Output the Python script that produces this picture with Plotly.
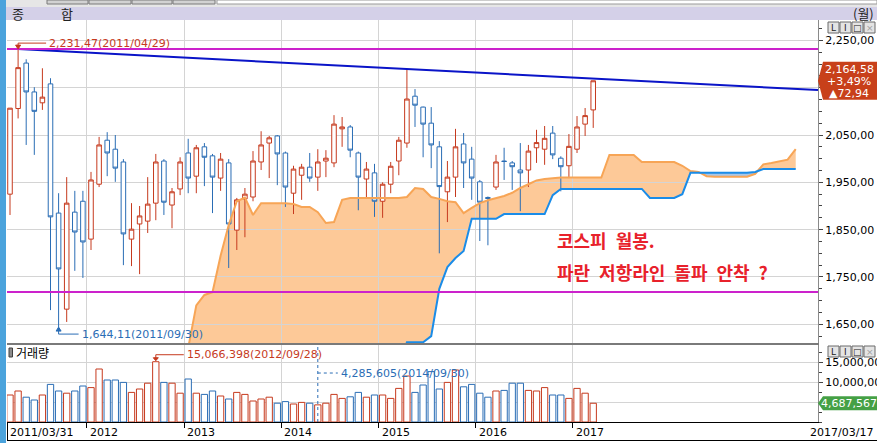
import plotly.graph_objects as go

# ---------------- data ----------------
opens = [1925, 2106, 2202, 2141, 2118, 2158, 1885, 1682, 1887, 1910,
         1830, 1946, 2039, 2020, 1993, 1830, 1862, 1868, 1906, 1995,
         1902, 1936, 2012, 1963, 2025, 2006, 1959, 1991, 1849, 1915,
         1919, 1993, 2033, 2048, 2012, 1927, 1965, 1982, 1961, 1995,
         1991, 2063, 2067, 2012, 1957, 1970, 1910, 1946, 1995, 2033,
         2132, 2109, 2075, 2025, 1930, 1961, 2031, 1999, 1951, 1918,
         1940, 1995, 1991, 1976, 1976, 2023, 2020, 2054, 2001, 1985,
         2020, 2073, 2103]
highs = [2107, 2231.47, 2210, 2151, 2191, 2170, 1927, 1961, 1932, 1932,
         1972, 2046, 2056, 2050, 1999, 1906, 1900, 1961, 2010, 1999,
         1938, 2003, 2042, 2029, 2033, 2010, 2012, 1999, 1917, 1938,
         2016, 2058, 2048, 2050, 2015, 1985, 1989, 2012, 2020, 2018,
         2092, 2088, 2071, 2015, 1993, 1989, 1950, 1993, 2046, 2189.54,
         2147, 2110, 2109, 2037, 1995, 2063, 2054, 2025, 1955, 1920,
         2008, 2023, 1995, 2033, 2029, 2061, 2069, 2069, 2005, 2052,
         2090, 2107, 2164.58]
lows = [1881, 2085, 2029, 2008, 2103, 1680, 1644.11, 1655, 1763, 1748,
        1807, 1940, 1963, 1951, 1775, 1773, 1756, 1843, 1870, 1881,
        1853, 1923, 1927, 1927, 1942, 1885, 1932, 1769, 1807, 1834,
        1910, 1976, 1959, 1944, 1898, 1883, 1913, 1951, 1932, 1961,
        1982, 2025, 2003, 1891, 1919, 1877, 1875, 1927, 1965, 2023,
        2067, 2003, 1980, 1800, 1866, 1919, 1938, 1913, 1826, 1817,
        1934, 1955, 1934, 1889, 1940, 1991, 1987, 1999, 1931, 1959,
        2012, 2048, 2065]
closes = [2106.7, 2192.36, 2141, 2100, 2130, 1877, 1767, 1906, 1845, 1824,
          1955, 2029, 2012, 1980, 1841, 1851, 1879, 1904, 1993, 1908,
          1930, 1993, 1959, 2023, 2003, 1961, 1999, 1862, 1913, 1925,
          1995, 2029, 2044, 2010, 1940, 1978, 1982, 1959, 1993, 2001,
          2073, 2067, 2018, 1961, 1978, 1910, 1946, 1984, 2039, 2126,
          2113, 2073, 2029, 1941, 1961, 2025, 1991, 1959, 1908, 1916,
          1993, 1994, 1983, 1970, 2016, 2034, 2043, 2008, 1983, 2026,
          2067, 2091, 2164.58]
volumes = [6750000, 7750000, 6200000, 5500000, 6750000, 9400000, 7750000, 7200000, 7750000, 9000000,
           8600000, 13250000, 10500000, 10500000, 9900000, 7400000, 8250000, 9700000, 15066398, 9900000,
           9700000, 7200000, 10750000, 7200000, 6900000, 7750000, 6500000, 5750000, 7400000, 6900000,
           5250000, 5750000, 6200000, 4700000, 5100000, 4500000, 4900000, 4700000, 4285605, 4700000,
           6900000, 5900000, 6300000, 7400000, 6200000, 6750000, 6750000, 5900000, 8400000, 11500000,
           7400000, 9250000, 12600000, 8250000, 9900000, 13000000, 8800000, 9400000, 7200000, 6200000,
           7750000, 7900000, 9700000, 9700000, 7900000, 7750000, 8600000, 6750000, 6750000, 5900000,
           8400000, 7200000, 4687567]

cloud_start = 22  # month index of the first cloud value (cloud runs 25 months ahead)
cloud_orange = [1600, 1690, 1712, 1718, 1795, 1860, 1910, 1918, 1881, 1906,
                1906, 1906, 1906, 1904, 1898, 1898, 1887, 1864, 1866, 1913,
                1917, 1917, 1917, 1917, 1917, 1917, 1917, 1919, 1938, 1936,
                1919, 1915, 1910, 1908, 1885, 1896, 1906, 1912, 1916, 1921,
                1928, 1938, 1946, 1954, 1957, 1959, 1960, 1960, 1960, 1960,
                1960, 1960, 2008, 2008, 2008, 2008, 1993, 1993, 1993, 1993,
                1993, 1985, 1974, 1972, 1963, 1962, 1962, 1962, 1962, 1962,
                1968, 1988, 1991, 1994, 1998, 2020]
cloud_blue = [1560, 1560, 1560, 1560, 1560, 1560, 1560, 1560, 1560, 1560,
              1560, 1560, 1560, 1560, 1560, 1560, 1560, 1560, 1560, 1560,
              1560, 1560, 1560, 1560, 1560, 1560, 1560, 1612, 1612, 1612,
              1625, 1725, 1771, 1790, 1805, 1873, 1873, 1873, 1873, 1883,
              1883, 1883, 1883, 1883, 1883, 1923, 1936, 1936, 1936, 1936,
              1936, 1936, 1936, 1936, 1936, 1936, 1936, 1917, 1917, 1917,
              1917, 1925, 1970, 1970, 1970, 1970, 1970, 1970, 1970, 1970,
              1972, 1978, 1978, 1978, 1978, 1978]

trend_x = [1, 99.75]
trend_y = [2231.47, 2145.0]
hline_top = 2231.47
hline_bottom = 1718

year_ticks = [9.5, 21.5, 33.5, 45.5, 57.5, 69.5]
year_labels = ["2012", "2013", "2014", "2015", "2016", "2017"]
first_label = "2011/03/31"
last_label = "2017/03/17"
price_ticks = [1650, 1750, 1850, 1950, 2050, 2150, 2250]
price_ticktext = ["1,650,00", "1,750,00", "1,850,00", "1,950,00", "2,050,00", "", "2,250,00"]
vol_ticks = [5000000, 10000000, 15000000]
vol_ticktext = ["", "10,000,000", "15,000,000"]

high_label = "2,231,47(2011/04/29)"
low_label = "1,644,11(2011/09/30)"
volmax_label = "15,066,398(2012/09/28)"
cursor_label = "4,285,605(2014/09/30)"
cursor_idx = 38
price_box = ["2,164,58", "+3,49%", "▲72,94"]
vol_box = "4,687,567"
memo_lines = ["코스피\u2002월봉.", "파란\u2002저항라인\u2002돌파\u2002안착\u2002?"]

# ---------------- styling ----------------
RED = "#C63A1E"
BLUE = "#2A6DB5"
GRID = "#D4D4D4"
NUMFONT = "DejaVu Sans"
KRFONT = "Noto Sans CJK KR"

W, H = 877, 443
ML, MR, MT, MB = 7, 59, 20, 21
PW, PH = W - ML - MR, H - MT - MB


def pxx(px):
    return (px - ML) / PW


def pxy(py):
    return (H - MB - py) / PH


idx = list(range(len(closes)))
cloud_x = list(range(cloud_start, cloud_start + len(cloud_orange)))
upper = [max(o, b) for o, b in zip(cloud_orange, cloud_blue)]
bar_colors = [RED if c >= o else BLUE for o, c in zip(opens, closes)]


def poly(xs, top, bottom):
    pts = [f"{x},{y}" for x, y in zip(xs, top)]
    pts += [f"{x},{y}" for x, y in zip(xs[::-1], bottom[::-1])]
    return "M" + " L".join(pts) + " Z"


fig = go.Figure()

fig.add_trace(go.Candlestick(
    x=idx, open=opens, high=highs, low=lows, close=closes,
    increasing=dict(line=dict(color=RED, width=1), fillcolor="white"),
    decreasing=dict(line=dict(color=BLUE, width=1), fillcolor="white"),
    whiskerwidth=0, showlegend=False, hoverinfo="skip",
    xaxis="x", yaxis="y"))

fig.add_trace(go.Scatter(x=cloud_x, y=cloud_orange, mode="lines",
                         line=dict(color="#F7A556", width=2), showlegend=False,
                         hoverinfo="skip", xaxis="x", yaxis="y"))
fig.add_trace(go.Scatter(x=cloud_x, y=cloud_blue, mode="lines",
                         line=dict(color="#1A8CE8", width=2), showlegend=False,
                         hoverinfo="skip", xaxis="x", yaxis="y"))
fig.add_trace(go.Scatter(x=trend_x, y=trend_y, mode="lines",
                         line=dict(color="#0A14C8", width=2), showlegend=False,
                         hoverinfo="skip", xaxis="x", yaxis="y"))

fig.add_trace(go.Bar(x=idx, y=volumes, width=0.78,
                     marker=dict(color="white", line=dict(color=bar_colors, width=1)),
                     showlegend=False, hoverinfo="skip", xaxis="x2", yaxis="y2"))

shapes = []
# cloud fills (below traces)
shapes.append(dict(type="path", xref="x", yref="y", path=poly(cloud_x, upper, cloud_blue),
                   fillcolor="#FDC998", line=dict(width=0), layer="below"))
shapes.append(dict(type="path", xref="x", yref="y", path=poly(cloud_x, upper, cloud_orange),
                   fillcolor="#A9C6E6", line=dict(width=0), layer="below"))
# magenta horizontal levels
for lvl in (hline_top, hline_bottom):
    shapes.append(dict(type="line", xref="x domain", yref="y", x0=0, x1=1, y0=lvl, y1=lvl,
                       line=dict(color="#CC22CC", width=2), layer="above"))

# high annotation connector
i_hi = highs.index(max(highs))
shapes.append(dict(type="path", xref="x", yref="y", xsizemode="pixel", ysizemode="pixel",
                   xanchor=i_hi, yanchor=highs[i_hi], path="M0,1 L0,6 L28,6",
                   line=dict(color=RED, width=1)))
shapes.append(dict(type="path", xref="x", yref="y", xsizemode="pixel", ysizemode="pixel",
                   xanchor=i_hi, yanchor=highs[i_hi], path="M-2.5,4 L2.5,4 L0,0 Z",
                   fillcolor=RED, line=dict(color=RED, width=1)))
# low annotation connector
i_lo = lows.index(min(lows))
shapes.append(dict(type="path", xref="x", yref="y", xsizemode="pixel", ysizemode="pixel",
                   xanchor=i_lo, yanchor=lows[i_lo], path="M0,-1 L0,-7 L20,-7",
                   line=dict(color=BLUE, width=1)))
shapes.append(dict(type="path", xref="x", yref="y", xsizemode="pixel", ysizemode="pixel",
                   xanchor=i_lo, yanchor=lows[i_lo], path="M-2.5,-4 L2.5,-4 L0,0 Z",
                   fillcolor=BLUE, line=dict(color=BLUE, width=1)))
# volume max connector
i_vm = volumes.index(max(volumes))
shapes.append(dict(type="path", xref="x2", yref="y2", xsizemode="pixel", ysizemode="pixel",
                   xanchor=i_vm, yanchor=volumes[i_vm], path="M0,2 L0,7 L28,7",
                   line=dict(color=RED, width=1)))
shapes.append(dict(type="path", xref="x2", yref="y2", xsizemode="pixel", ysizemode="pixel",
                   xanchor=i_vm, yanchor=volumes[i_vm], path="M-2.5,4 L2.5,4 L0,1 Z",
                   fillcolor=RED, line=dict(color=RED, width=1)))
# cursor dashed lines in volume panel
cur_y = 0.636
shapes.append(dict(type="line", xref="x2", yref="y2 domain", x0=cursor_idx, x1=cursor_idx,
                   y0=0, y1=1, line=dict(color=BLUE, width=1, dash="dot")))
shapes.append(dict(type="line", xref="x2", yref="y2 domain", xsizemode="pixel",
                   xanchor=cursor_idx, x0=0, x1=20, y0=cur_y, y1=cur_y,
                   line=dict(color=BLUE, width=1, dash="dot")))

# price box on the right axis
bx0, bx1, bx2 = pxx(818), pxx(823), pxx(879)
shapes.append(dict(type="path", xref="paper", yref="y", ysizemode="pixel", yanchor=closes[-1],
                   path=f"M{bx0},0 L{bx1},19 L{bx2},19 L{bx2},-19 L{bx1},-19 Z",
                   fillcolor="#C8401A", line=dict(width=0)))
shapes.append(dict(type="path", xref="paper", yref="y2", ysizemode="pixel", yanchor=volumes[-1],
                   path=f"M{bx0},0 L{bx1},7 L{bx2},7 L{bx2},-7 L{bx1},-7 Z",
                   fillcolor="#45A045", line=dict(width=0)))

# window decorations
shapes.append(dict(type="rect", xref="paper", yref="paper", x0=pxx(0), x1=pxx(877),
                   y0=pxy(7), y1=pxy(0), fillcolor="#E6E6E6", line=dict(width=0)))
for tx0, tx1 in [(47, 88), (89, 131), (132, 172), (173, 215)]:
    shapes.append(dict(type="rect", xref="paper", yref="paper", x0=pxx(tx0), x1=pxx(tx1),
                       y0=pxy(4), y1=pxy(0), fillcolor="#D2D2D2", line=dict(color="#7A7A7A", width=1)))
shapes.append(dict(type="rect", xref="paper", yref="paper", x0=pxx(217), x1=pxx(877),
                   y0=pxy(4), y1=pxy(0), fillcolor="white", line=dict(color="#9A9A9A", width=1)))
shapes.append(dict(type="rect", xref="paper", yref="paper", x0=pxx(0), x1=pxx(877),
                   y0=pxy(20), y1=pxy(7), fillcolor="#D4D0E8", line=dict(width=0)))
shapes.append(dict(type="rect", xref="paper", yref="paper", x0=pxx(0), x1=pxx(6),
                   y0=pxy(443), y1=pxy(0), fillcolor="#4BA3DC", line=dict(width=0)))
shapes.append(dict(type="line", xref="paper", yref="paper", x0=pxx(7), x1=pxx(877),
                   y0=pxy(440.5), y1=pxy(440.5), line=dict(color="black", width=1)))
shapes.append(dict(type="line", xref="paper", yref="paper", x0=pxx(7.5), x1=pxx(7.5),
                   y0=pxy(441), y1=pxy(422), line=dict(color="black", width=1)))
# panel buttons
btn_text = ["L", "I", "□", "×"]
annotations = []
for top in (22, 346):
    for k, bx in enumerate([828, 840, 852, 864]):
        shapes.append(dict(type="rect", xref="paper", yref="paper", x0=pxx(bx), x1=pxx(bx + 11),
                           y0=pxy(top + 11), y1=pxy(top), fillcolor="#E4E4E4",
                           line=dict(color="#6A6A6A", width=1)))
        annotations.append(dict(xref="paper", yref="paper", x=pxx(bx + 5.5), y=pxy(top + 5.5),
                                xanchor="center", yanchor="middle",
                                text=btn_text[k], showarrow=False,
                                font=dict(family=NUMFONT, size=9,
                                          color="#A0A0A0" if k == 3 else "#202020")))
# volume label icon
shapes.append(dict(type="rect", xref="paper", yref="paper", x0=pxx(9), x1=pxx(12.5),
                   y0=pxy(357), y1=pxy(348), fillcolor="#8C8C8C", line=dict(color="#404040", width=1)))

# ---------------- annotations ----------------
annotations.append(dict(xref="x", yref="y", x=i_hi, y=highs[i_hi], xshift=29, yshift=6,
                        xanchor="left", yanchor="middle", text=high_label, showarrow=False,
                        font=dict(family=NUMFONT, size=11, color=RED)))
annotations.append(dict(xref="x", yref="y", x=i_lo, y=lows[i_lo], xshift=21, yshift=-7,
                        xanchor="left", yanchor="middle", text=low_label, showarrow=False,
                        font=dict(family=NUMFONT, size=11, color=BLUE)))
annotations.append(dict(xref="x2", yref="y2", x=i_vm, y=volumes[i_vm], xshift=29, yshift=7,
                        xanchor="left", yanchor="middle", text=volmax_label, showarrow=False,
                        font=dict(family=NUMFONT, size=11, color=RED)))
annotations.append(dict(xref="x2", yref="y2 domain", x=cursor_idx, y=cur_y, xshift=21,
                        xanchor="left", yanchor="middle", text=cursor_label, showarrow=False,
                        font=dict(family=NUMFONT, size=11, color=BLUE)))
for k, (txt, dy) in enumerate(zip(price_box, [11, -1, -13])):
    annotations.append(dict(xref="paper", yref="y", x=pxx(849), y=closes[-1], yshift=dy,
                            text=txt, showarrow=False, xanchor="center", yanchor="middle",
                            font=dict(family=NUMFONT, size=11, color="white")))
annotations.append(dict(xref="paper", yref="y2", x=pxx(849), y=volumes[-1],
                        text=vol_box, showarrow=False, xanchor="center", yanchor="middle",
                        font=dict(family=NUMFONT, size=11, color="white")))
# x-axis labels
for tv, tl in zip(year_ticks, year_labels):
    annotations.append(dict(xref="x2", yref="paper", x=tv, y=pxy(432), xshift=1,
                            xanchor="left", yanchor="middle", text=tl, showarrow=False,
                            font=dict(family=NUMFONT, size=11, color="black")))
annotations.append(dict(xref="paper", yref="paper", x=pxx(8), y=pxy(432), xanchor="left",
                        yanchor="middle", text=first_label, showarrow=False,
                        font=dict(family=NUMFONT, size=11, color="black")))
annotations.append(dict(xref="paper", yref="paper", x=pxx(875), y=pxy(432), xanchor="right",
                        yanchor="middle", text=last_label, showarrow=False,
                        font=dict(family=NUMFONT, size=11, color="black")))
# header texts
annotations.append(dict(xref="paper", yref="paper", x=pxx(18), y=pxy(13.5), text="종",
                        xanchor="center", yanchor="middle",
                        showarrow=False, font=dict(family=KRFONT, size=13, color="#222")))
annotations.append(dict(xref="paper", yref="paper", x=pxx(67), y=pxy(13.5), text="합",
                        xanchor="center", yanchor="middle",
                        showarrow=False, font=dict(family=KRFONT, size=13, color="#222")))
annotations.append(dict(xref="paper", yref="paper", x=pxx(876), y=pxy(13.5), text="(월)",
                        xanchor="right", yanchor="middle", showarrow=False,
                        font=dict(family=KRFONT, size=13, color="#222")))
annotations.append(dict(xref="paper", yref="paper", x=pxx(14), y=pxy(352.5), text="거래량",
                        xanchor="left", yanchor="middle", showarrow=False,
                        font=dict(family=KRFONT, size=12, color="black")))
# memo
for txt, py in zip(memo_lines, [240, 272]):
    annotations.append(dict(xref="paper", yref="paper", x=pxx(555), y=pxy(py), text=f"<b>{txt}</b>",
                            xanchor="left", yanchor="middle", showarrow=False,
                            font=dict(family=KRFONT, size=18, color="#E8212B")))

axis_font = dict(family=NUMFONT, size=11, color="black")
main_bottom = pxy(343)
vol_top = pxy(345)

fig.update_layout(
    width=W, height=H,
    margin=dict(l=ML, r=MR, t=MT, b=MB, pad=0),
    paper_bgcolor="white", plot_bgcolor="white",
    showlegend=False, hovermode=False, boxgap=0.2, bargap=0,
    xaxis=dict(domain=[0, 1], range=[-0.37, 99.75], anchor="y", tickmode="array",
               tickvals=year_ticks, showticklabels=False, ticks="", showgrid=True,
               gridcolor=GRID, gridwidth=1, zeroline=False, showline=True,
               linecolor="#7A7A7A", linewidth=2, rangeslider=dict(visible=False),
               fixedrange=True),
    xaxis2=dict(domain=[0, 1], matches="x", anchor="y2", tickmode="array",
                tickvals=year_ticks, showticklabels=False, ticks="outside", ticklen=5,
                tickcolor="black", showgrid=True, gridcolor=GRID, zeroline=False,
                showline=True, linecolor="black", linewidth=1, fixedrange=True),
    yaxis=dict(domain=[main_bottom, 1], range=[1610.5, 2293], anchor="x", side="right",
               tickmode="array", tickvals=price_ticks, ticktext=price_ticktext,
               ticks="outside", ticklen=4, tickcolor="#444", tickfont=axis_font,
               showgrid=True, gridcolor=GRID, zeroline=False, showline=True,
               linecolor="#8A8A8A", linewidth=1, automargin=False, fixedrange=True,
               minor=dict(tickmode="linear", tick0=0, dtick=25, ticks="outside", ticklen=3,
                          tickcolor="#444", showgrid=False)),
    yaxis2=dict(domain=[0, vol_top], range=[0, 19250000], anchor="x2", side="right",
                tickmode="array", tickvals=vol_ticks, ticktext=vol_ticktext,
                ticks="outside", ticklen=4, tickcolor="#444", tickfont=axis_font,
                showgrid=True, gridcolor=GRID, zeroline=False, showline=True,
                linecolor="#8A8A8A", linewidth=1, automargin=False, fixedrange=True,
                minor=dict(tickmode="linear", tick0=0, dtick=2500000, ticks="outside",
                           ticklen=3, tickcolor="#444", showgrid=False)),
    shapes=shapes,
    annotations=annotations,
)

fig.write_html("out.html", config={"displayModeBar": False, "staticPlot": True},
               post_script="document.body.style.margin='0px';document.body.style.overflow='hidden';")
